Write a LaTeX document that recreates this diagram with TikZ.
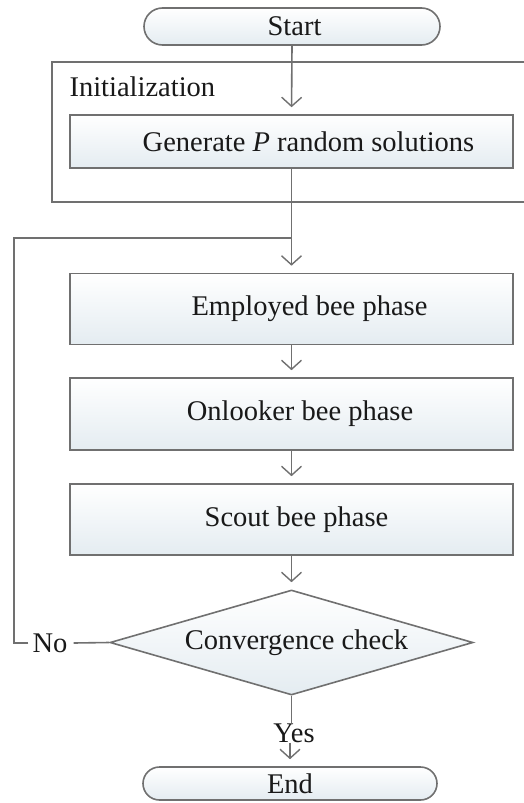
\documentclass[tikz,border=0pt]{standalone}
\usepackage{fontspec}
\setmainfont{Liberation Serif}
\usetikzlibrary{shapes.geometric,shapes.misc,arrows.meta}
\definecolor{linegray}{RGB}{112,112,112}
\definecolor{boxbot}{RGB}{228,236,241}
\definecolor{txt}{RGB}{25,25,25}
\begin{document}
\begin{tikzpicture}[x=1pt,y=-1pt,
  line/.style={draw=linegray,line width=1.6pt},
  arr/.style={line,-{Straight Barb[length=9pt,width=20pt,line width=1.4pt]},shorten >=7pt},
  bigtext/.style={text=txt,font=\fontsize{28.5}{31}\selectfont},
  procbox/.style={draw=linegray,line width=1.6pt,top color=white,bottom color=boxbot,
    minimum width=443pt,inner sep=0pt,bigtext},
  termbox/.style={shape=rounded rectangle,draw=linegray,line width=1.6pt,top color=white,
    bottom color=boxbot,inner sep=0pt,bigtext},
  decbox/.style={shape=diamond,draw=linegray,line width=1.6pt,top color=white,bottom color=boxbot,
    aspect=3.46,minimum width=363pt,minimum height=105pt,inner sep=0pt,bigtext}
]
\useasboundingbox (0,0) rectangle (524,803);
% initialization frame
\draw[line] (530,62) -- (52,62) -- (52,202) -- (530,202);
\node[bigtext,anchor=west] (initlabel) at (66,87) {Initialization};

\node[termbox,minimum width=296pt,minimum height=37pt] (start) at (292,26.5) {\hspace*{5pt}Start};
\node[procbox,minimum height=53pt] (gen) at (291.5,141.5) {\hspace*{34pt}Generate \textit{P} random solutions};
\node[procbox,minimum height=71pt] (emp) at (291.5,309) {\hspace*{36pt}Employed bee phase};
\node[procbox,minimum height=72pt] (onl) at (291.5,414) {\hspace*{17pt}Onlooker bee phase};
\node[procbox,minimum height=71pt] (sco) at (291.5,519.5) {\hspace*{10pt}Scout bee phase};
\node[decbox] (conv) at (291.5,642.5) {\hspace*{10pt}Convergence check};
\node[termbox,minimum width=294pt,minimum height=33pt] (end) at (290,783.5) {End};
\node[bigtext,inner sep=0pt] (no) at (50,643) {No};
\node[bigtext,inner sep=0pt] (yes) at (294,733) {Yes};
\coordinate (merge) at (291.5,238);
\coordinate (corner) at (14,643);

\draw[arr] (start.south) -- (gen.north);
\draw[arr] (gen.south) -- (emp.north);
\draw[arr] (emp.south) -- (onl.north);
\draw[arr] (onl.south) -- (sco.north);
\draw[arr] (sco.south) -- (conv.north);
\draw[line] (conv.west) -- ([xshift=6pt]no.east);
\draw[line] ([xshift=-4pt]no.west) -- (corner) |- (merge);
\draw[line] (conv.south) -- (conv.south |- yes.north);
\draw[arr] (yes.south -| end.north) -- (end.north);
\end{tikzpicture}
\end{document}
